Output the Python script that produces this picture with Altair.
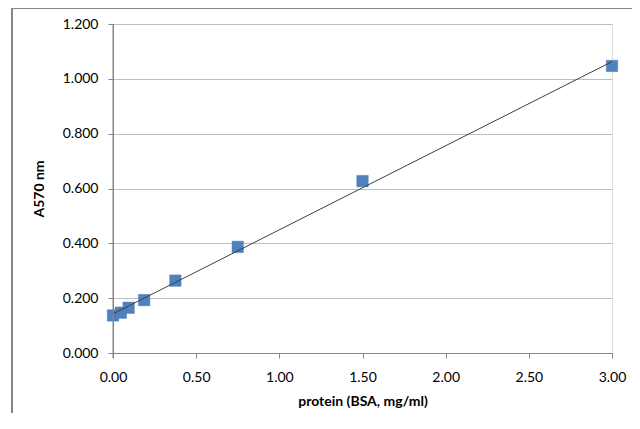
import altair as alt
import pandas as pd

protein = [0.0, 0.047, 0.094, 0.1875, 0.375, 0.75, 1.5, 3.0]
absorb = [0.137, 0.147, 0.165, 0.193, 0.264, 0.387, 0.627, 1.047]
x_ticks = [0, 0.5, 1.0, 1.5, 2.0, 2.5, 3.0]
y_ticks = [0, 0.2, 0.4, 0.6, 0.8, 1.0, 1.2]

df = pd.DataFrame({"protein": protein, "A570": absorb})
axis_df = pd.DataFrame({"pos": [0]})

FONT = "Lato"

x_enc = alt.X(
    "protein:Q",
    scale=alt.Scale(domain=[0, 3], nice=False, zero=False),
    axis=alt.Axis(
        title="protein (BSA, mg/ml)", values=x_ticks, format=".2f",
        grid=False, domain=True, domainColor="#868686", tickColor="#868686",
        tickSize=5, labelFontSize=14, labelColor="#000000",
        labelPadding=12, labelFlush=False, labelOverlap=False,
        titleFontSize=14, titleFontWeight="bold",
        titlePadding=10, labelFont=FONT, titleFont=FONT,
    ),
)
y_enc = alt.Y(
    "A570:Q",
    scale=alt.Scale(domain=[0, 1.2], nice=False),
    axis=alt.Axis(
        title="A570 nm", values=y_ticks, format=".3f",
        grid=True, gridColor="#bfbfbf", domain=True, domainColor="#868686",
        domainWidth=1, tickColor="#868686", tickSize=5, labelFontSize=14,
        labelColor="#000000", labelPadding=10, labelFlush=False,
        labelOverlap=False, titleFontSize=14,
        titleFontWeight="bold", titlePadding=16, labelFont=FONT,
        titleFont=FONT,
    ),
)

frame = alt.Chart(df).mark_rect(
    fillOpacity=0, stroke="#868686", strokeWidth=1, clip=False
).encode(
    x=alt.value(-101), x2=alt.value(600), y=alt.value(-16), y2=alt.value(420)
)

points = alt.Chart(df).mark_point(
    shape="square", filled=True, size=130, color="#4f81bd", opacity=1,
    stroke="#4a7ebb", strokeWidth=0.5
).encode(x=x_enc, y=y_enc)

trend = alt.Chart(df).transform_regression(
    "protein", "A570", extent=[0, 3]
).mark_line(color="#404040", strokeWidth=1).encode(x=x_enc, y=y_enc)

yaxis_bar = alt.Chart(axis_df).mark_rect(color="#868686", opacity=1).encode(
    x=alt.value(-0.5), x2=alt.value(0.7), y=alt.value(0), y2=alt.value(334)
)

chart = alt.layer(frame, points, trend, yaxis_bar).properties(
    width=499, height=329,
    autosize=alt.AutoSizeParams(type="none"),
    padding={"left": 105, "top": 16, "right": 20, "bottom": 60},
).configure_view(stroke=None).configure(background="white")

chart.save("out.html", embed_options={"renderer": "svg", "actions": False})
